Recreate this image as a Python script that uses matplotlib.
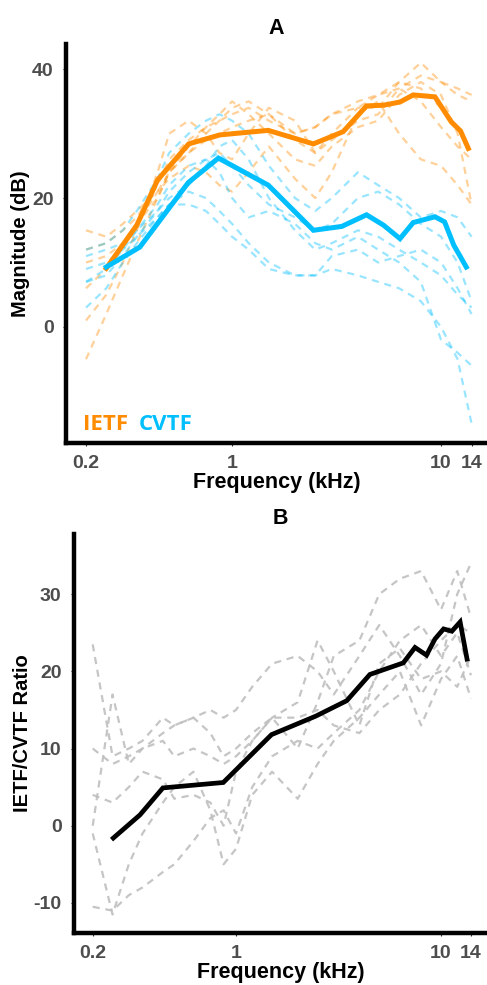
import matplotlib
matplotlib.use("Agg")
import matplotlib.pyplot as plt
import numpy as np

# ---- data -------------------------------------------------------------
# frequency grid (kHz) for the individual traces
freq_ind = [0.2, 0.25, 0.3, 0.35, 0.44, 0.5, 0.62, 0.75, 0.87, 1.0, 1.2, 1.5,
            2.0, 2.5, 3.0, 4.0, 5.0, 6.3, 8.0, 10, 12, 14]

# individual IETF traces (dB)
ietf_ind = [
    [-5, 2, 8, 13, 20, 24, 27, 30, 32, 34, 35, 33, 30, 31, 33, 35, 36, 37, 39, 38, 36, 35],
    [1, 5, 10, 15, 24, 30, 32, 30, 27, 26, 30, 34, 32, 27, 30, 34, 34, 38, 41, 38, 37, 36],
    [6, 9, 13, 16, 21, 23, 25, 24, 22, 21, 24, 28, 23, 20, 24, 33, 35, 30, 26, 25, 22, 19],
    [12, 13, 15, 17, 22, 26, 29, 31, 32, 33, 34, 32, 30, 31, 33, 34, 36, 38, 37, 34, 31, 27],
    [15, 14, 16, 18, 21, 24, 27, 29, 30, 31, 32, 33, 29, 27, 29, 32, 33, 37, 35, 31, 28, 26],
    [10, 11, 13, 16, 20, 24, 28, 31, 33, 35, 33, 30, 26, 25, 28, 31, 32, 36, 38, 36, 30, 19],
]

# individual CVTF traces (dB)
cvtf_ind = [
    [12, 13, 15, 18, 23, 27, 30, 32, 33, 32, 30, 25, 20, 18, 20, 24, 22, 20, 17, 18, 17, 14],
    [7, 9, 12, 15, 18, 20, 22, 25, 28, 29, 26, 20, 15, 12, 13, 15, 14, 12, 10, 8, 5, 3],
    [3, 6, 10, 13, 17, 19, 21, 20, 18, 16, 13, 10, 8, 8, 9, 8, 7, 6, 4, 0, -5, -15],
    [11, 12, 13, 15, 19, 22, 25, 26, 24, 20, 17, 18, 16, 13, 12, 14, 12, 10, 7, -2, -4, -6],
    [7, 8, 11, 14, 18, 21, 24, 26, 27, 25, 22, 19, 17, 15, 16, 20, 21, 19, 16, 14, 10, 4],
    [9, 10, 12, 14, 17, 19, 19, 18, 16, 14, 12, 9, 8, 8, 11, 12, 10, 11, 12, 10, 6, 2],
]

# individual IETF/CVTF ratio traces
ratio_ind = [
    [23.5, 9, 10, 11, 14, 13, 14, 15, 14, 15, 18, 21, 22, 20, 17, 22, 26, 22, 17, 21, 30, 34],
    [0, 17, 8, 10, 12, 13, 14, 12, 9, 10, 12, 14, 10, 16, 22, 24, 30, 32, 33, 28, 33, 27],
    [-10.5, -11, -9, -8, -6, -5, -2, 1, 2, -1, 5, 9, 11, 10, 12, 15, 20, 24, 26, 22, 25, 19.5],
    [-1, -11.5, -5, -1, 3, 5, 7, 2, -5, -3, 4, 7, 3.5, 8, 11, 14, 17, 20, 13, 19, 22, 16.5],
    [4, 3, 5, 7, 6, 3.5, 4, 3, 0, 7, 11, 14, 14, 15, 13, 12, 15, 17, 21, 24, 26, 25],
    [10, 8, 9, 10, 11, 9, 10, 9, 8, 9, 11, 14, 16, 24, 20, 13, 21, 23, 19, 20, 18, 22],
]

# group means
ietf_freq = [0.25, 0.35, 0.44, 0.62, 0.875, 1.49, 2.45, 3.4, 4.4, 5.3, 6.36, 7.36, 9.35, 11.2, 12.4, 13.5]
ietf_mean = [9.1, 15.8, 22.8, 28.4, 29.8, 30.5, 28.4, 30.3, 34.3, 34.4, 34.9, 36.0, 35.7, 31.8, 30.4, 27.7]

cvtf_freq = [0.25, 0.362, 0.617, 0.86, 1.49, 2.45, 3.35, 4.4, 5.3, 6.36, 7.36, 9.35, 10.4, 11.5, 13.2]
cvtf_mean = [9.3, 12.4, 22.4, 26.2, 22.0, 15.0, 15.6, 17.4, 15.8, 13.7, 16.2, 17.1, 16.3, 12.7, 9.3]

ratio_freq = [0.252, 0.34, 0.44, 0.867, 1.49, 2.45, 3.47, 4.5, 6.55, 7.47, 8.5, 9.35, 10.3, 11.3, 12.4, 13.4]
ratio_mean = [-1.6, 1.4, 4.9, 5.6, 11.8, 14.2, 16.2, 19.6, 21.1, 23.1, 22.1, 24.2, 25.5, 25.2, 26.4, 21.6]

xticks = [0.2, 1, 10, 14]
xticklabels = ["0.2", "1", "10", "14"]

# ---- style ------------------------------------------------------------
ORANGE = "#FF8C00"
BLUE = "#00BFFF"
TICK_GREY = "#4D4D4D"
FONT = "Liberation Sans"

plt.rcParams["font.family"] = FONT

fig = plt.figure(figsize=(4.87, 9.85), dpi=100)
axA = fig.add_axes([66 / 487, (985 - 443) / 985, (487 - 66) / 487, (443 - 44) / 985])
axB = fig.add_axes([74 / 487, (985 - 933) / 985, (487 - 74) / 487, (933 - 534) / 985])


def style_axes(ax, yticks, ylabel, title):
    ax.set_xscale("log")
    ax.set_xticks(xticks)
    ax.set_xticklabels(xticklabels)
    ax.minorticks_off()
    ax.set_yticks(yticks)
    ax.set_yticklabels([str(v) for v in yticks])
    for s in ("top", "right"):
        ax.spines[s].set_visible(False)
    for s in ("left", "bottom"):
        ax.spines[s].set_linewidth(3.2)
        ax.spines[s].set_color("black")
        ax.spines[s].set_capstyle("projecting")
    ax.tick_params(axis="both", length=2, width=0.8, color="#333333",
                   labelsize=14, labelcolor=TICK_GREY, pad=7)
    for lab in ax.get_xticklabels() + ax.get_yticklabels():
        lab.set_fontweight("bold")
    ax.set_xlabel("Frequency (kHz)", fontsize=15.5, fontweight="bold", va="center")
    ax.xaxis.set_label_coords(0.5, -0.098)
    ax.set_ylabel(ylabel, fontsize=14.5, fontweight="bold", labelpad=1)
    ax.set_title(title, fontsize=15.5, fontweight="bold", pad=7)
    ax.patch.set_alpha(0)


dash = dict(linestyle=(0, (3.2, 2.6)), linewidth=1.6)

# Panel A: individual transfer functions and group means
for tr in ietf_ind:
    axA.plot(freq_ind, tr, color=ORANGE, alpha=0.4, **dash)
for tr in cvtf_ind:
    axA.plot(freq_ind, tr, color=BLUE, alpha=0.4, **dash)
axA.plot(ietf_freq, ietf_mean, color=ORANGE, linewidth=3.6, solid_joinstyle="miter")
axA.plot(cvtf_freq, cvtf_mean, color=BLUE, linewidth=3.6, solid_joinstyle="miter")
axA.set_xlim(0.1604, 16.59)
axA.set_ylim(-18, 43.9)
style_axes(axA, [0, 20, 40], "Magnitude (dB)", "A")

fig.text(83 / 487, 1 - 430 / 985, "IETF", color=ORANGE, fontsize=16,
         fontweight="bold", family="Open Sans", ha="left", va="baseline")
fig.text(139 / 487, 1 - 430 / 985, "CVTF", color=BLUE, fontsize=16,
         fontweight="bold", family="Open Sans", ha="left", va="baseline")

# Panel B: IETF/CVTF ratio
for tr in ratio_ind:
    axB.plot(freq_ind, tr, color="#BFBFBF", alpha=0.9, **dash)
axB.plot(ratio_freq, ratio_mean, color="black", linewidth=3.4, solid_joinstyle="miter")
axB.set_xlim(0.1621, 16.77)
axB.set_ylim(-13.9, 37.8)
style_axes(axB, [-10, 0, 10, 20, 30], "IETF/CVTF Ratio", "B")

fig.savefig("out.png", dpi=100, facecolor="white")
